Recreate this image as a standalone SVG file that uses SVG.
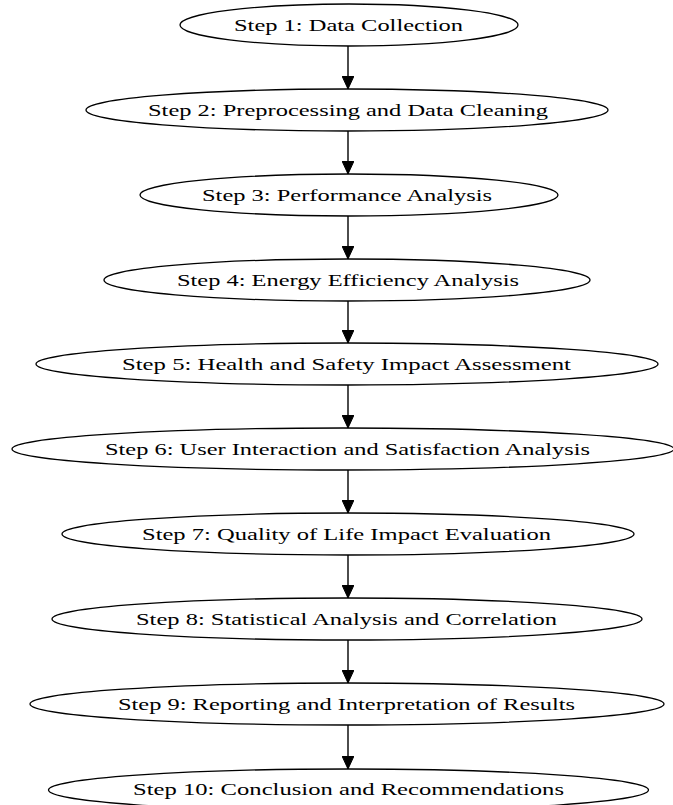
<svg xmlns="http://www.w3.org/2000/svg" width="673" height="805" viewBox="0 0 673 805">
<defs>
<marker id="arr" markerWidth="13" markerHeight="12" refX="13" refY="6" orient="auto" markerUnits="userSpaceOnUse">
<path d="M0,0 L13,6 L0,12 Z" fill="#000" stroke="#000" stroke-width="1"/>
</marker>
<style>
.n ellipse{fill:#fff;stroke:#000;stroke-width:1.3}
.n text{font-family:"Liberation Serif","Times New Roman",serif;font-size:17.5px;fill:#000;text-anchor:middle}
.e line{stroke:#000;stroke-width:1.4;marker-end:url(#arr)}
</style>
</defs>
<rect width="673" height="805" fill="#fff"/>
<g class="e" id="edges">
<line x1="348" y1="46" x2="348" y2="89"/>
<line x1="348" y1="131" x2="348" y2="174"/>
<line x1="348" y1="216" x2="348" y2="259"/>
<line x1="348" y1="301" x2="348" y2="343"/>
<line x1="348" y1="385" x2="348" y2="428"/>
<line x1="348" y1="470" x2="348" y2="513"/>
<line x1="348" y1="555" x2="348" y2="598"/>
<line x1="348" y1="640" x2="348" y2="683"/>
<line x1="348" y1="725" x2="348" y2="769"/>
</g>
<g class="n" id="step1"><ellipse cx="349" cy="25" rx="169" ry="21"/><text x="348.5" y="31" textLength="229" lengthAdjust="spacingAndGlyphs">Step 1: Data Collection</text></g>
<g class="n" id="step2"><ellipse cx="347" cy="110" rx="261" ry="21"/><text x="348" y="116" textLength="400" lengthAdjust="spacingAndGlyphs">Step 2: Preprocessing and Data Cleaning</text></g>
<g class="n" id="step3"><ellipse cx="349" cy="195" rx="209" ry="21"/><text x="347" y="201" textLength="290" lengthAdjust="spacingAndGlyphs">Step 3: Performance Analysis</text></g>
<g class="n" id="step4"><ellipse cx="347" cy="280" rx="243" ry="21"/><text x="348" y="286" textLength="342" lengthAdjust="spacingAndGlyphs">Step 4: Energy Efficiency Analysis</text></g>
<g class="n" id="step5"><ellipse cx="347" cy="364" rx="311" ry="21"/><text x="346.5" y="370" textLength="449" lengthAdjust="spacingAndGlyphs">Step 5: Health and Safety Impact Assessment</text></g>
<g class="n" id="step6"><ellipse cx="343" cy="449" rx="331" ry="21"/><text x="347.5" y="455" textLength="485" lengthAdjust="spacingAndGlyphs">Step 6: User Interaction and Satisfaction Analysis</text></g>
<g class="n" id="step7"><ellipse cx="348" cy="534" rx="286" ry="21"/><text x="346.5" y="540" textLength="409" lengthAdjust="spacingAndGlyphs">Step 7: Quality of Life Impact Evaluation</text></g>
<g class="n" id="step8"><ellipse cx="347" cy="619" rx="295" ry="21"/><text x="346.5" y="625" textLength="421" lengthAdjust="spacingAndGlyphs">Step 8: Statistical Analysis and Correlation</text></g>
<g class="n" id="step9"><ellipse cx="347" cy="704" rx="317" ry="21"/><text x="346.5" y="710" textLength="457" lengthAdjust="spacingAndGlyphs">Step 9: Reporting and Interpretation of Results</text></g>
<g class="n" id="step10"><ellipse cx="348.5" cy="790" rx="300" ry="21"/><text x="348.5" y="795" textLength="431" lengthAdjust="spacingAndGlyphs">Step 10: Conclusion and Recommendations</text></g>
</svg>
